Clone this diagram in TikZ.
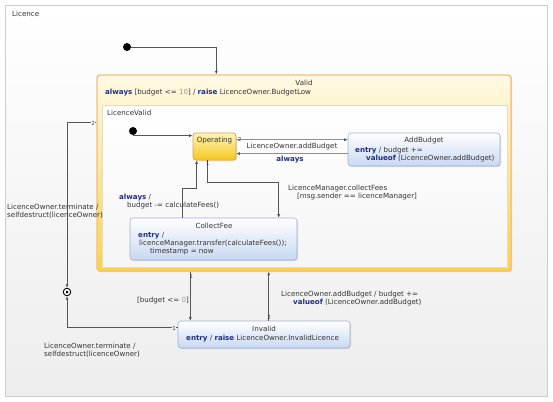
\documentclass[tikz,border=0pt]{standalone}
\usepackage{fontspec}
\setmainfont{DejaVu Sans}
\usetikzlibrary{arrows.meta,shadows,calc}
\definecolor{kw}{HTML}{1F2F80}
\definecolor{txt}{HTML}{333333}
\definecolor{ln}{HTML}{555555}
\definecolor{numgray}{HTML}{999999}
\newcommand\kw[1]{\textcolor{kw}{\textbf{#1}}}
\begin{document}
\begin{tikzpicture}[x=1pt,y=-1pt,
  font=\fontsize{7.1}{8}\selectfont,
  lbl/.style={inner sep=0pt, text=txt, align=left},
  numlbl/.style={inner sep=0.3pt, text=txt, font=\fontsize{5.5}{6}\selectfont},
  tr/.style={draw=ln, line width=0.6pt, -{Latex[length=3.5pt,width=3pt]}},
  outerbox/.style={draw=black!20, top color=white, bottom color=black!7, inner sep=0pt},
  validbox/.style={draw={rgb,255:red,247;green,190;blue,120}, line width=1.4pt, rounded corners=3pt,
     top color={rgb,255:red,255;green,250;blue,230}, bottom color={rgb,255:red,250;green,212;blue,70}, inner sep=0pt,
     drop shadow={opacity=0.3, shadow xshift=1.2pt, shadow yshift=-1.2pt}},
  regionbox/.style={draw={rgb,255:red,225;green,220;blue,200}, line width=0.5pt, top color=white, bottom color=black!4, inner sep=0pt},
  opbox/.style={draw={rgb,255:red,238;green,160;blue,50}, line width=0.8pt, rounded corners=3pt,
     top color={rgb,255:red,255;green,244;blue,185}, bottom color={rgb,255:red,245;green,200;blue,30}, inner sep=0pt,
     drop shadow={opacity=0.25, shadow xshift=1pt, shadow yshift=-1pt}},
  bluebox/.style={draw={rgb,255:red,160;green,178;blue,214}, line width=0.6pt, rounded corners=3pt,
     top color=white, bottom color={rgb,255:red,200;green,216;blue,242}, inner sep=0pt,
     drop shadow={opacity=0.25, shadow xshift=1pt, shadow yshift=-1pt}},
  dot/.style={circle, fill=black, inner sep=0pt, minimum size=8pt}
]
\useasboundingbox (0,0) rectangle (553,401);
\fill[white] (0,0) rectangle (553,401);

% containers
\node[outerbox, minimum width=542, minimum height=391] (licence) at (276,200.5) {};
\node[lbl, anchor=west] (licencet) at (12,14) {Licence};

\node[validbox, minimum width=414, minimum height=196] (valid) at (304,173) {};
\node[regionbox, minimum width=405, minimum height=162] (region) at (304.5,186) {};
\node[lbl] (validt) at (304,83) {Valid};
\node[lbl, anchor=west] (validact) at (105,93) {\kw{always} [budget <= \textcolor{numgray}{10}] / \kw{raise} LicenceOwner.BudgetLow};
\node[lbl, anchor=west] (regiont) at (107,113) {LicenceValid};

% states
\node[opbox, minimum width=43, minimum height=27] (op) at (214.5,146.5) {};
\node[lbl] (opt) at (214.5,141) {Operating};

\node[bluebox, minimum width=152, minimum height=33] (ab) at (424,149.5) {};
\node[lbl] (abt) at (424,141) {AddBudget};
\node[lbl, anchor=west] (aba1) at (355,151) {\kw{entry} / budget +=};
\node[lbl, anchor=west] (aba2) at (366,159) {\kw{valueof} (LicenceOwner.addBudget)};

\node[bluebox, minimum width=167, minimum height=42] (cf) at (213.5,239) {};
\node[lbl] (cft) at (214,226) {CollectFee};
\node[lbl, anchor=west] (cfa1) at (138,236) {\kw{entry} /};
\node[lbl, anchor=west] (cfa2) at (139,244) {licenceManager.transfer(calculateFees());};
\node[lbl, anchor=west] (cfa3) at (150,252) {timestamp = now};

\node[bluebox, minimum width=172, minimum height=27] (inv) at (264,334.5) {};
\node[lbl] (invt) at (264,329) {Invalid};
\node[lbl, anchor=west] (inva) at (186,339) {\kw{entry} / \kw{raise} LicenceOwner.InvalidLicence};

% pseudo states
\node[dot] (i1) at (127,47) {};
\node[dot] (i2) at (133,131) {};
\node[circle, draw=black, line width=0.9pt, fill=white, inner sep=0pt, minimum size=7.5pt] (term) at (67,292) {};
\node[circle, fill=black, inner sep=0pt, minimum size=3pt] (termdot) at (term.center) {};

% transitions
\draw[tr] (i1) -| ($(valid.north west)+(120,0)$);
\draw[tr] (i2) |- ($(op.north west)+(0,3)$);

\draw[tr] ($(op.north east)+(0,7)$) -- ($(ab.north west)+(0,7)$);
\node[numlbl] (n1) at (239.5,139) {2};
\draw[tr] ($(ab.north west)+(0,21)$) -- ($(op.north east)+(0,21)$);
\node[lbl] (t1) at (292,147) {LicenceOwner.addBudget};
\node[lbl] (t2) at (290,160) {\kw{always}};

\draw[tr] ($(op.south west)+(15,0)$) -- ++(0,22) -| ($(cf.north west)+(149,0)$);
\node[numlbl] (n2) at (207.5,163.5) {1};
\node[lbl, anchor=west] (t3) at (288,189) {LicenceManager.collectFees};
\node[lbl, anchor=west] (t4) at (297,197) {[msg.sender == licenceManager]};

\draw[tr] ($(cf.north west)+(53,0)$) -- ++(0,-29) -| ($(op.south west)+(4,0)$);
\node[lbl, anchor=west] (t5) at (119,198) {\kw{always} /};
\node[lbl, anchor=west] (t6) at (127,206) {budget -= calculateFees()};

\draw[tr] ($(valid.south west)+(94,0)$) coordinate (v1) -- (v1 |- inv.north);
\node[numlbl] (n3) at (191,276) {1};
\node[lbl, anchor=west] (t7) at (137,301) {[budget <= \textcolor{numgray}{0}]};

\draw[tr] ($(inv.north west)+(91,0)$) coordinate (iv2) -- (iv2 |- valid.south);
\node[numlbl] (n4) at (269,317) {2};
\node[lbl, anchor=west] (t8) at (281,295) {LicenceOwner.addBudget / budget +=};
\node[lbl, anchor=west] (t9) at (293,303) {\kw{valueof} (LicenceOwner.addBudget)};

\draw[tr] ($(valid.north west)+(0,48)$) -| (term.north);
\node[numlbl, fill=white] (n5) at (93,123) {2};
\node[lbl, anchor=west] (t10) at (7,207) {LicenceOwner.terminate /};
\node[lbl, anchor=west] (t11) at (7,215) {selfdestruct(licenceOwner)};

\draw[tr] ($(inv.north west)+(0,7)$) -| (term.south);
\node[numlbl, fill=black!5] (n6) at (174,328) {1};
\node[lbl, anchor=west] (t12) at (44,346) {LicenceOwner.terminate /};
\node[lbl, anchor=west] (t13) at (44,354) {selfdestruct(licenceOwner)};
\end{tikzpicture}
\end{document}
